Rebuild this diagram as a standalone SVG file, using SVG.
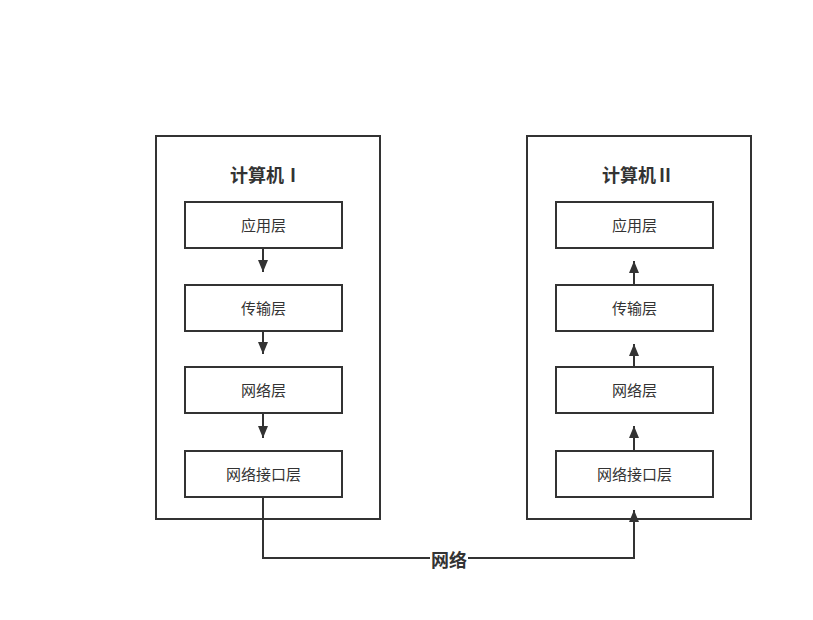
<svg xmlns="http://www.w3.org/2000/svg" width="813" height="620" viewBox="0 0 813 620">
<style>
.o{fill:#fff;stroke:#333;stroke-width:2}
.b{fill:#fff;stroke:#333;stroke-width:2}
.t{font-family:"Noto Sans CJK SC",sans-serif;font-size:15px;fill:#333;text-anchor:middle;dominant-baseline:central}
.h{font-family:"Noto Sans CJK SC",sans-serif;font-size:18px;font-weight:bold;fill:#333;text-anchor:middle;dominant-baseline:central}
.c{fill:none;stroke:#333;stroke-width:2}
</style>
<defs><marker id="a" markerWidth="10" markerHeight="12" refX="5" refY="12" markerUnits="userSpaceOnUse" viewBox="0 0 10 12"><path d="M0,0 L10,0 L5,12 Z" fill="#333"/></marker>
<marker id="u" markerWidth="10" markerHeight="12" refX="5" refY="0" markerUnits="userSpaceOnUse" viewBox="0 0 10 12"><path d="M0,12 L10,12 L5,0 Z" fill="#333"/></marker></defs>
<rect width="813" height="620" fill="#fff"/>
<g id="pc1"><rect class="o" x="156" y="136" width="224" height="383"/><text class="h" x="266" y="174">计算机Ⅰ</text></g>
<g id="pc2"><rect class="o" x="527" y="136" width="224" height="383"/><text class="h" x="638" y="174">计算机Ⅱ</text></g>
<g id="l1"><rect class="b" x="185" y="202" width="157" height="46"/><text class="t" x="263.5" y="224">应用层</text></g>
<g id="l2"><rect class="b" x="185" y="285" width="157" height="46"/><text class="t" x="263.5" y="307">传输层</text></g>
<g id="l3"><rect class="b" x="185" y="367" width="157" height="46"/><text class="t" x="263.5" y="389">网络层</text></g>
<g id="l4"><rect class="b" x="185" y="451" width="157" height="46"/><text class="t" x="263.5" y="473">网络接口层</text></g>
<g id="r1"><rect class="b" x="556" y="202" width="157" height="46"/><text class="t" x="634.5" y="224">应用层</text></g>
<g id="r2"><rect class="b" x="556" y="285" width="157" height="46"/><text class="t" x="634.5" y="307">传输层</text></g>
<g id="r3"><rect class="b" x="556" y="367" width="157" height="46"/><text class="t" x="634.5" y="389">网络层</text></g>
<g id="r4"><rect class="b" x="556" y="451" width="157" height="46"/><text class="t" x="634.5" y="473">网络接口层</text></g>
<g id="connectors">
<path class="c" d="M263,248 V272" marker-end="url(#a)"/>
<path class="c" d="M263,331 V354" marker-end="url(#a)"/>
<path class="c" d="M263,413 V438" marker-end="url(#a)"/>
<path class="c" d="M634,285 V261" marker-end="url(#u)"/>
<path class="c" d="M634,367 V344" marker-end="url(#u)"/>
<path class="c" d="M634,451 V426" marker-end="url(#u)"/>
<path class="c" d="M263,497 V558 H634 V510" marker-end="url(#u)"/>
<rect x="430" y="548" width="38" height="22" fill="#fff"/>
<text class="h" x="449" y="559">网络</text>
</g>
</svg>
